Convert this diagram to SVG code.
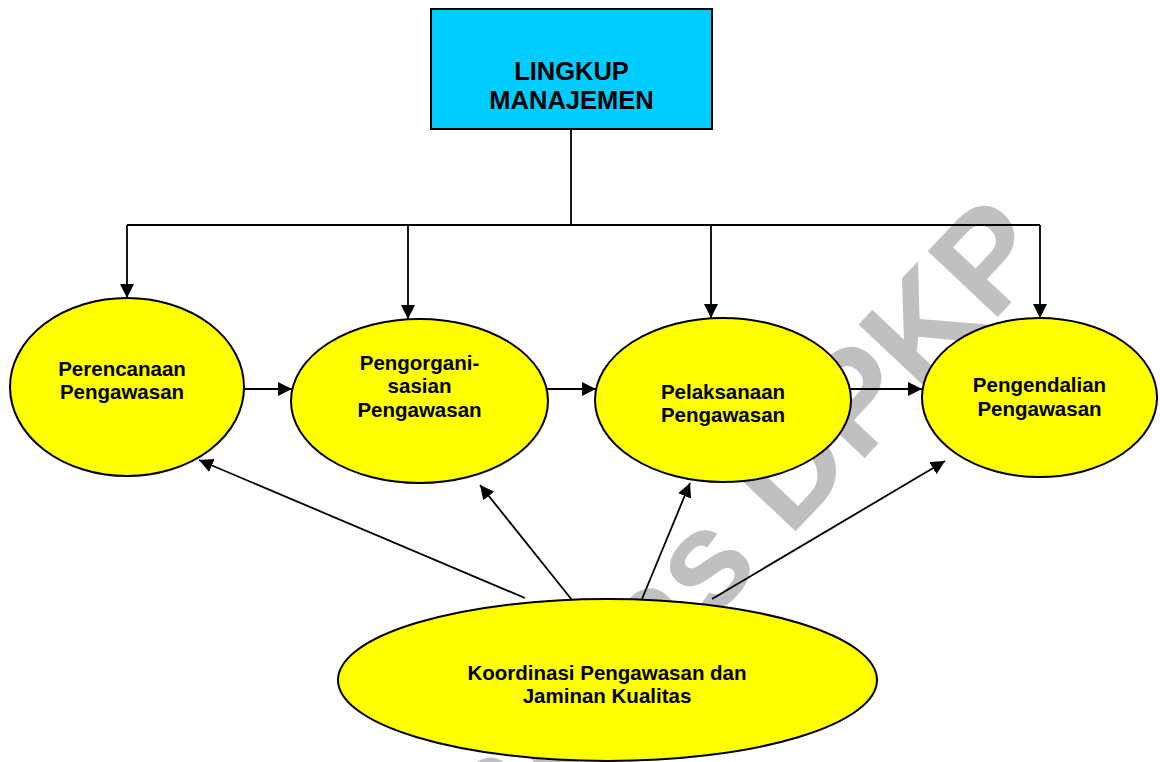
<svg xmlns="http://www.w3.org/2000/svg" width="1160" height="762" viewBox="0 0 1160 762">
  <style>
    .label { font-family: "Liberation Sans", Arial, sans-serif; font-weight: bold; fill: #000; text-anchor: middle; }
    .node-text { font-size: 20.5px; }
    .box-text { font-size: 25.5px; }
    .oval { fill: #ffff00; stroke: #000; stroke-width: 2; }
    .box { fill: #00ccff; stroke: #000; stroke-width: 2; }
    .link { fill: none; stroke: #000; stroke-width: 1.8; }
    .watermark { font-family: "Liberation Sans", Arial, sans-serif; font-weight: bold; font-size: 139.5px; fill: #c0c0c0; }
  </style>
  <defs>
    <marker id="arrow" markerUnits="userSpaceOnUse" markerWidth="14" markerHeight="14" refX="14" refY="7" orient="auto">
      <path d="M0,0 L14,7 L0,14 z" fill="#000"/>
    </marker>
  </defs>

  <rect width="1160" height="762" fill="#ffffff"/>

  <!-- background watermark -->
  <text class="watermark" x="1055" y="256" text-anchor="end" transform="rotate(-46.7 1055 256)">Pusdiklatwas DPKP</text>

  <!-- connectors -->
  <g id="connectors">
    <!-- tree from the top box -->
    <path class="link" d="M571,129 V225 M127,225 H1040"/>
    <path class="link" d="M127,225 V298" marker-end="url(#arrow)"/>
    <path class="link" d="M408,225 V319" marker-end="url(#arrow)"/>
    <path class="link" d="M711,225 V318" marker-end="url(#arrow)"/>
    <path class="link" d="M1040,225 V318" marker-end="url(#arrow)"/>
    <!-- sequence of the four stages -->
    <path class="link" d="M244,389 H292" marker-end="url(#arrow)"/>
    <path class="link" d="M547,389 H596" marker-end="url(#arrow)"/>
    <path class="link" d="M850,389 H922" marker-end="url(#arrow)"/>
    <!-- coordination feeding every stage -->
    <path class="link" d="M525,598 L199,460" marker-end="url(#arrow)"/>
    <path class="link" d="M572,600 L480,485" marker-end="url(#arrow)"/>
    <path class="link" d="M642,599 L690,483" marker-end="url(#arrow)"/>
    <path class="link" d="M712,599 L945,461" marker-end="url(#arrow)"/>
  </g>

  <g id="lingkup-manajemen">
    <rect class="box" x="431" y="9" width="281" height="120"/>
    <text class="label box-text" x="571.5" y="80">LINGKUP</text>
    <text class="label box-text" x="571.5" y="109">MANAJEMEN</text>
  </g>

  <g id="perencanaan">
    <ellipse class="oval" cx="127" cy="387" rx="117" ry="89"/>
    <text class="label node-text" x="122" y="376">Perencanaan</text>
    <text class="label node-text" x="122" y="399">Pengawasan</text>
  </g>

  <g id="pengorganisasian">
    <ellipse class="oval" cx="419.5" cy="401" rx="128.5" ry="82"/>
    <text class="label node-text" x="419.5" y="370">Pengorgani-</text>
    <text class="label node-text" x="419.5" y="393">sasian</text>
    <text class="label node-text" x="419.5" y="417">Pengawasan</text>
  </g>

  <g id="pelaksanaan">
    <ellipse class="oval" cx="723" cy="400" rx="128" ry="82"/>
    <text class="label node-text" x="723" y="399">Pelaksanaan</text>
    <text class="label node-text" x="723" y="422">Pengawasan</text>
  </g>

  <g id="pengendalian">
    <ellipse class="oval" cx="1039.5" cy="397.5" rx="117.5" ry="79.5"/>
    <text class="label node-text" x="1039.5" y="392">Pengendalian</text>
    <text class="label node-text" x="1039.5" y="416">Pengawasan</text>
  </g>

  <g id="koordinasi">
    <ellipse class="oval" cx="607.5" cy="680" rx="269.5" ry="81"/>
    <text class="label node-text" x="607" y="680">Koordinasi Pengawasan dan</text>
    <text class="label node-text" x="607" y="703">Jaminan Kualitas</text>
  </g>
</svg>
